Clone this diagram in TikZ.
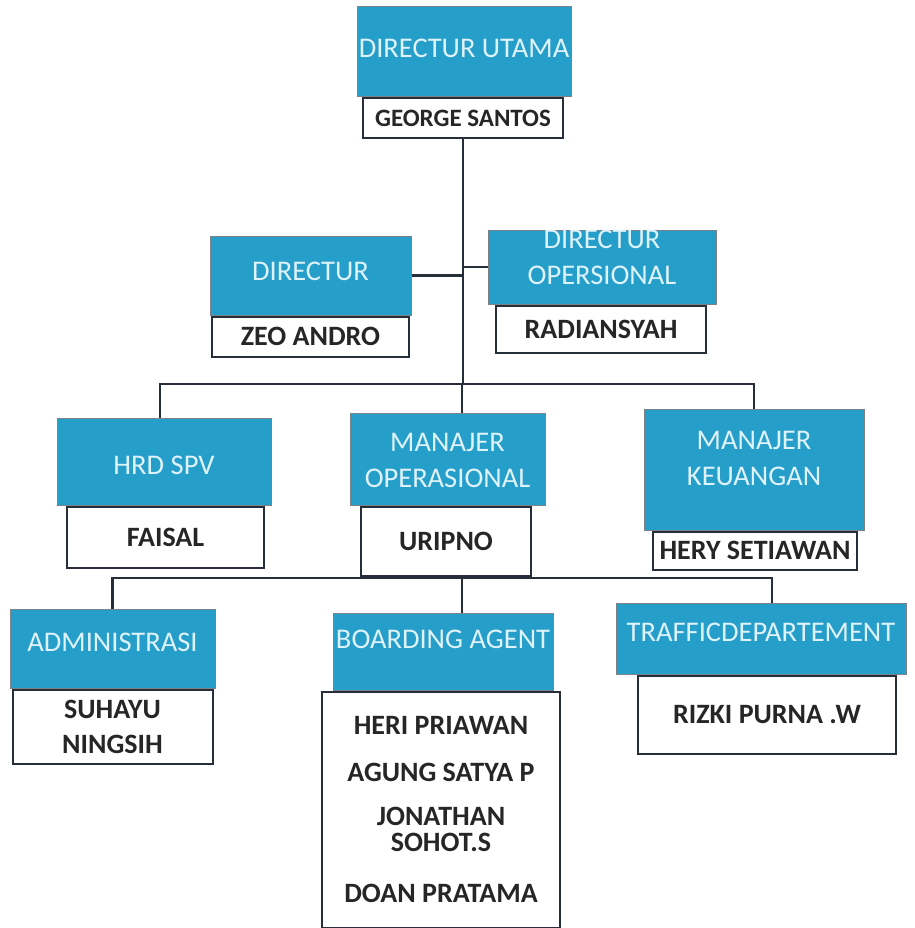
\documentclass[tikz,border=0pt]{standalone}
\usepackage{fontspec}
\setmainfont{Carlito}
\usetikzlibrary{positioning}
\definecolor{orgblue}{RGB}{37,158,202}
\definecolor{titletext}{RGB}{222,242,250}
\definecolor{edgegray}{RGB}{38,46,58}

% lift text inside a box, keeping its size
\newcommand{\lift}[2]{\raisebox{#1}[\height][\depth]{#2}}
\newcommand{\liftlines}[3]{\lift{#1}{\begin{tabular}{@{}c@{}}#2\\#3\end{tabular}}}

\tikzset{
  titlebox/.style={draw=edgegray!60, line width=1pt, fill=orgblue, text=titletext,
    align=center, inner sep=0pt, font=\fontsize{28.5}{36}\selectfont},
  namebox/.style={draw=edgegray, line width=2pt, fill=white, text=black!85,
    align=center, inner sep=0pt, font=\bfseries\fontsize{28}{35}\selectfont},
  link/.style={draw=edgegray, line width=2.5pt}
}

\begin{document}
\begin{tikzpicture}[x=1pt, y=-1pt]
  \useasboundingbox (0,0) rectangle (914,928);

  % top
  \node[titlebox, minimum width=214pt, minimum height=90pt] (dirut) at (464,52) {\lift{4pt}{DIRECTUR UTAMA}};
  \node[namebox, below=0pt of dirut, xshift=-1pt, minimum width=200pt, minimum height=40pt,
    font=\bfseries\fontsize{25}{30}\selectfont] (dirutname) {GEORGE SANTOS};

  % directors
  \node[titlebox, minimum width=201pt, minimum height=79pt] (direk) at (310.5,275.5) {\lift{4pt}{DIRECTUR}};
  \node[namebox, below=0pt of direk, minimum width=197pt, minimum height=40pt] (direkname) {ZEO ANDRO};
  \node[titlebox, minimum width=228pt, minimum height=74pt] (dirop) at (602,267) {\liftlines{8pt}{DIRECTUR}{OPERSIONAL}};
  \node[namebox, below=0pt of dirop, xshift=-1pt, minimum width=210pt, minimum height=47pt] (diropname) {RADIANSYAH};

  % managers
  \node[titlebox, minimum width=214pt, minimum height=87pt] (hrd) at (164,461.5) {\lift{-4pt}{HRD SPV}};
  \node[namebox, below=0pt of hrd, xshift=1.5pt, minimum width=197pt, minimum height=61pt] (hrdname) {FAISAL};
  \node[titlebox, minimum width=195pt, minimum height=92pt] (manop) at (447.5,459) {\liftlines{-3pt}{MANAJER}{OPERASIONAL}};
  \node[namebox, below=0pt of manop, xshift=-1.5pt, minimum width=170pt, minimum height=69pt] (manopname) {URIPNO};
  \node[titlebox, minimum width=220pt, minimum height=121pt] (keu) at (754,469.5) {\liftlines{9pt}{MANAJER}{KEUANGAN}};
  \node[namebox, below=0pt of keu, xshift=1pt, minimum width=204pt, minimum height=38pt] (keuname) {HERY SETIAWAN};

  % staff
  \node[titlebox, minimum width=205pt, minimum height=79pt] (admin) at (112.5,648.5) {\lift{6pt}{ADMINISTRASI}};
  \node[namebox, below=0pt of admin, minimum width=200pt, minimum height=74pt] (adminname) {SUHAYU\\NINGSIH};
  \node[titlebox, minimum width=220pt, minimum height=77pt] (board) at (443,651.5) {\lift{12pt}{BOARDING AGENT}};
  \node[namebox, below=0pt of board, xshift=-2pt, minimum width=238pt, minimum height=236pt] (boardname)
    {HERI PRIAWAN\\[12pt]AGUNG SATYA P\\[9pt]JONATHAN\\[-9pt]SOHOT.S\\[16pt]DOAN PRATAMA};
  \node[titlebox, minimum width=290pt, minimum height=71pt] (traffic) at (761,638.5) {\lift{6pt}{TRAFFICDEPARTEMENT}};
  \node[namebox, below=0pt of traffic, xshift=6pt, minimum width=258pt, minimum height=78pt] (trafficname) {RIZKI PURNA .W};

  % connectors
  \coordinate (hub) at (462,384);
  \coordinate (hubb) at (462,578);
  \draw[link] (dirutname.south) -- (dirutname.south |- hub);
  \draw[link] (direk.east) -- (direk.east -| hub);
  \draw[link] (dirop.west) -- (dirop.west -| hub);
  \draw[link] ([xshift=-4pt]hrd.north) |- (hub) -| (keu.north);
  \draw[link] (hub) -- (manop.north -| hub);
  \draw[link] (manopname.south -| hubb) -- (hubb);
  \draw[link] (admin.north) |- (hubb) -| ([xshift=11pt]traffic.north);
  \draw[link] (hubb) -- (board.north -| hubb);
\end{tikzpicture}
\end{document}
